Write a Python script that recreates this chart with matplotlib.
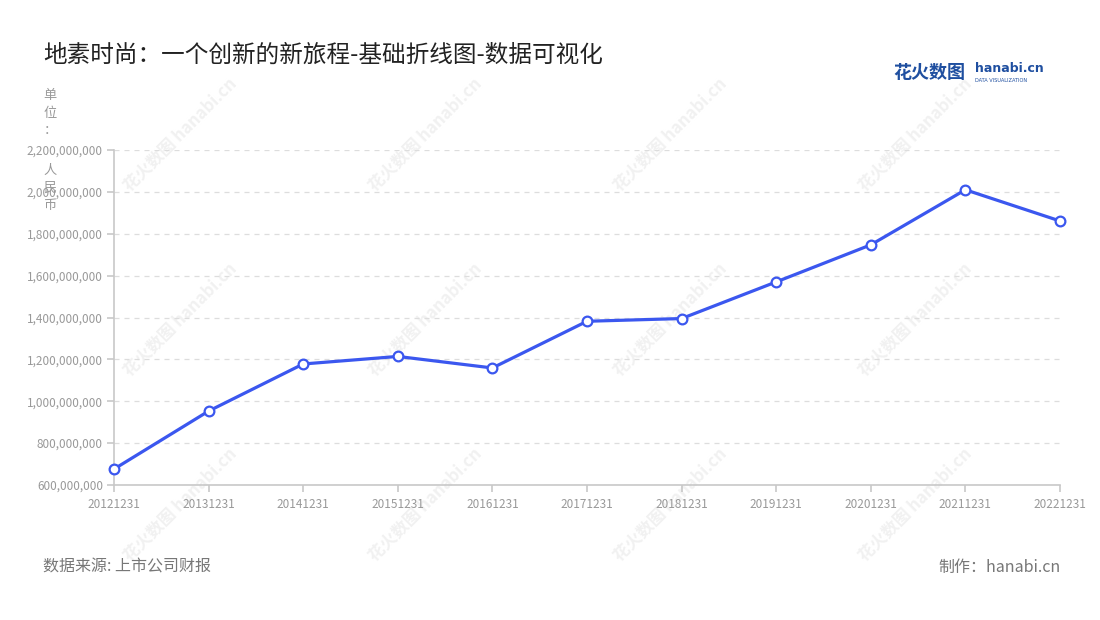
import matplotlib
matplotlib.use('Agg')
import matplotlib.pyplot as plt
from matplotlib.ticker import FuncFormatter

plt.rcParams['font.family'] = ['Noto Sans CJK SC', 'DejaVu Sans']

# data
dates = ['20121231', '20131231', '20141231', '20151231', '20161231', '20171231',
         '20181231', '20191231', '20201231', '20211231', '20221231']
revenue = [676e6, 953e6, 1178e6, 1214e6, 1159e6, 1382e6,
           1395e6, 1570e6, 1747e6, 2010e6, 1861e6]
yticks = [600e6, 800e6, 1000e6, 1200e6, 1400e6, 1600e6, 1800e6, 2000e6, 2200e6]

title = '地素时尚：一个创新的新旅程-基础折线图-数据可视化'
unit_chars = ['单', '位', '：', '人', '民', '币']
source = '数据来源: 上市公司财报'
credit = '制作：hanabi.cn'

line_c = '#3b57ef'
grey = '#999999'

fig = plt.figure(figsize=(11, 6.2), dpi=100)
ax = fig.add_axes([114/1100, 1-485/620, (1060-114)/1100, (485-150)/620])
ax.set_zorder(2)

# faint watermarks behind everything
for wx in [180, 425, 670, 915]:
    for wy in [135, 320, 505]:
        fig.text(wx/1100, 1-wy/620, '花火数图 hanabi.cn', rotation=45, fontsize=12,
                 color='#f1f1f1', ha='center', va='center', fontweight='bold', zorder=0)

x = list(range(len(dates)))
ax.plot(x, revenue, color=line_c, lw=2.3, marker='o', ms=7, mfc='white',
        mec=line_c, mew=1.6, zorder=3, clip_on=False)

ax.set_xlim(0, len(dates) - 1)
ax.set_ylim(yticks[0], yticks[-1])
ax.set_xticks(x)
ax.set_xticklabels(dates)
ax.set_yticks(yticks)
ax.yaxis.set_major_formatter(FuncFormatter(lambda v, p: f'{int(v):,}'))
ax.patch.set_alpha(0)

ax.grid(axis='y', color='#dddddd', ls=(0, (4, 4)), lw=0.9)
ax.set_axisbelow(True)
for s in ['top', 'right']:
    ax.spines[s].set_visible(False)
for s in ['left', 'bottom']:
    ax.spines[s].set_color('#c8c8c8')
    ax.spines[s].set_linewidth(1.2)
ax.tick_params(axis='both', colors='#c8c8c8', labelcolor=grey, labelsize=8.5,
               length=5, width=1.2)
ax.tick_params(axis='x', pad=4)
ax.tick_params(axis='y', pad=3)

# unit label, stacked vertically
unit_y = [95, 113, 131, 170, 188, 206]
for ch, uy in zip(unit_chars, unit_y):
    fig.text(50/1100, 1-uy/620, ch, fontsize=9.5, color=grey, ha='center', va='center',
             zorder=3)

fig.text(43/1100, 1-55/620, title, fontsize=17, color='#222222', ha='left', va='center')

# logo
fig.text(893/1100, 1-72/620, '花火数图', fontsize=13, color='#1f4fa0',
         fontweight='bold', ha='left', va='center')
fig.text(975/1100, 1-69/620, 'hanabi.cn', fontsize=9, color='#1f4fa0',
         fontweight='bold', ha='left', va='center', family='DejaVu Sans')
fig.text(975/1100, 1-80/620, 'DATA VISUALIZATION', fontsize=3.6, color='#1f4fa0',
         ha='left', va='center', family='DejaVu Sans')

fig.text(43/1100, 1-567/620, source, fontsize=11.5, color='#777777', ha='left', va='center')
fig.text(1061/1100, 1-567/620, credit, fontsize=11.5, color='#777777', ha='right', va='center')

fig.savefig('out.png', dpi=100, facecolor='white')
